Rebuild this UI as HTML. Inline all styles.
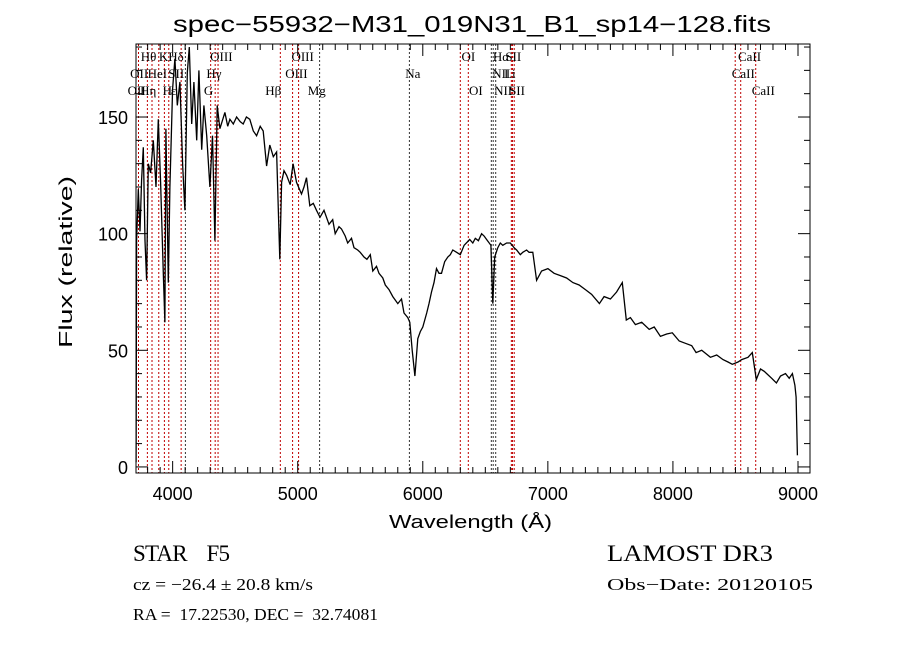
<!DOCTYPE html>
<html><head><meta charset="utf-8"><style>
body{margin:0;background:#fff;width:900px;height:649px;overflow:hidden}
svg{display:block}
text{font-family:"Liberation Sans",sans-serif;fill:#000}
.ser{font-family:"Liberation Serif",serif}
.lab{font-family:"Liberation Serif",serif;font-size:13px}
</style></head><body>
<svg id="chart" width="900" height="649" viewBox="0 0 900 649" xmlns="http://www.w3.org/2000/svg">
<text x="173" y="32" font-size="23" textLength="598" lengthAdjust="spacingAndGlyphs">spec−55932−M31_019N31_B1_sp14−128.fits</text>
<g id="lines"></g>
<g id="ticks"></g>
<path id="spec" fill="none" stroke="#000" stroke-width="1.3" stroke-linejoin="miter"/>
<rect x="136" y="44" width="674" height="429" fill="none" stroke="#000" stroke-width="1"/>
<text transform="translate(72,262) rotate(-90)" x="-86" font-size="18" textLength="172" lengthAdjust="spacingAndGlyphs">Flux (relative)</text>
<text x="389" y="528" font-size="18" textLength="163" lengthAdjust="spacingAndGlyphs">Wavelength (Å)</text>
<text class="ser" x="133" y="561" font-size="23" textLength="97" lengthAdjust="spacing" xml:space="preserve">STAR    F5</text>
<text class="ser" x="607" y="561" font-size="23" textLength="166" lengthAdjust="spacingAndGlyphs">LAMOST DR3</text>
<text class="ser" x="133" y="590" font-size="17" textLength="180" lengthAdjust="spacingAndGlyphs">cz = −26.4 ± 20.8 km/s</text>
<text class="ser" x="607" y="590" font-size="17" textLength="206" lengthAdjust="spacingAndGlyphs">Obs−Date: 20120105</text>
<text class="ser" x="133" y="620" font-size="17" textLength="245" lengthAdjust="spacingAndGlyphs" xml:space="preserve">RA =  17.22530, DEC =  32.74081</text>
</svg>
<script>
const wavelengths=[3708,3712,3725,3739,3752,3765,3779,3792,3805,3824,3845,3867,3885,3904,3925,3938,3946,3965,3978,4000,4018,4037,4058,4080,4098,4117,4133,4152,4170,4192,4210,4232,4250,4272,4298,4319,4338,4356,4378,4418,4440,4458,4485,4511,4540,4564,4590,4617,4645,4671,4700,4724,4751,4777,4805,4831,4857,4871,4890,4911,4940,4963,4990,5030,5050,5070,5097,5125,5150,5178,5210,5250,5280,5300,5330,5350,5380,5400,5430,5450,5480,5500,5530,5553,5580,5600,5630,5650,5680,5700,5730,5760,5800,5830,5850,5880,5896,5915,5937,5960,5980,6000,6031,6050,6070,6090,6110,6130,6150,6175,6200,6220,6240,6270,6300,6330,6375,6400,6420,6445,6470,6490,6510,6545,6560,6575,6600,6620,6640,6670,6700,6730,6750,6780,6800,6830,6850,6880,6910,6950,7000,7050,7100,7150,7200,7250,7300,7350,7412,7450,7500,7550,7595,7627,7660,7700,7750,7810,7850,7900,7950,7995,8050,8100,8150,8185,8230,8300,8350,8400,8440,8475,8520,8550,8600,8635,8667,8700,8730,8750,8790,8827,8860,8900,8930,8955,8975,8985,8995];
const fluxes=[2,97,119,101,123,137,97,80,130,126,140,120,149,122,83,62,145,79,120,162,175,155,165,129,110,169,180,147,165,140,170,136,155,142,120,142,97,155,145,152,146,149,147,150,148,147,150,149,144,142,146,144,129,138,133,135,89,122,127,125,121,130,122,117,120,124,112,113,110,107,110,104,106,100,103,102,99,96,98,94,93,92,90,89,91,84,86,83,81,78,76,73,70,72,66,64,62,50,39,55,58,60,66,70,75,79,85,83,83,88,90,91,93,92,91,95,97.5,96,98,97,100,99,97.5,95,70,90,94,96,95,96,96,94,93,91,92,93,92,92,80,84,85,83,82,81,79,78,76,74,70,73,72,75,79,63,64,61,62,59,60,56,57,57.5,54,53,52,49,50,47,48,46,45,44,45,46,47,49,37.5,42,41,40,38,36,39,40,38,40,35,30,5];
const lineWaves=[3727,3798,3835,3889,3934,3969,4068,4102,4304,4340,4363,4861,4959,5007,5175,5893,6300,6364,6548,6563,6583,6708,6717,6731,8498,8542,8662];
const lineColors=["r","r","r","r","r","r","r","k","r","r","r","r","r","r","k","k","r","r","k","k","k","r","r","r","r","r","r"];
const labelNames=["Hθ","K","Hδ","OIII","OIII","OI","Hα","SII","CaII","OII","HeI","SII","Hγ","OIII","Na","NII","Li","CaII","OII","Hη","H","ε","G","Hβ","Mg","OI","NII","SII","CaII"];
const labelWaves=[3745,3890,3965,4300,4950,6310,6560,6660,8520,3660,3800,3965,4270,4900,5860,6555,6650,8470,3640,3740,3920,3985,4250,4740,5080,6370,6570,6690,8630];
const labelRows=[0,0,0,0,0,0,0,0,0,1,1,1,1,1,1,1,1,1,2,2,2,2,2,2,2,2,2,2,2];
const xTicks=[4000,5000,6000,7000,8000,9000];
const yTicks=[0,50,100,150];

const X0=136,X1=810,Y0=44,Y1=473,WMIN=3707,WMAX=9096,FMIN=-2.6,FMAX=181.3;
const xs=w=>X0+(w-WMIN)/(WMAX-WMIN)*(X1-X0);
const ys=f=>Y1-(f-FMIN)/(FMAX-FMIN)*(Y1-Y0);
const NS="http://www.w3.org/2000/svg";
function mk(tag,attrs,parent){const e=document.createElementNS(NS,tag);for(const k in attrs)e.setAttribute(k,attrs[k]);parent.appendChild(e);return e;}

let d="";
wavelengths.forEach((w,i)=>{d+=(i?"L":"M")+xs(w).toFixed(1)+" "+ys(fluxes[i]).toFixed(1);});
document.getElementById("spec").setAttribute("d",d);

const lg=document.getElementById("lines");
lineWaves.forEach((w,i)=>{
  const l=mk("line",{x1:xs(w),x2:xs(w),y1:Y0,y2:Y1,stroke:lineColors[i]==="r"?"#c00000":"#333","stroke-width":1,"stroke-dasharray":"2,2"},lg);
  
  
});
labelNames.forEach((n,i)=>{
  const t=mk("text",{x:xs(labelWaves[i]),y:61+labelRows[i]*17,class:"lab"},lg);
  t.textContent=n;
  
  
});

const tg=document.getElementById("ticks");
for(let w=3800;w<=9000;w+=100){
  const major=w%1000===0,len=major?12:6;
  mk("line",{x1:xs(w),x2:xs(w),y1:Y1,y2:Y1-len,stroke:"#000"},tg);
  mk("line",{x1:xs(w),x2:xs(w),y1:Y0,y2:Y0+len,stroke:"#000"},tg);
}
for(let f=0;f<=180;f+=10){
  const major=f%50===0,len=major?12:6;
  mk("line",{x1:X0,x2:X0+len,y1:ys(f),y2:ys(f),stroke:"#000"},tg);
  mk("line",{x1:X1,x2:X1-len,y1:ys(f),y2:ys(f),stroke:"#000"},tg);
}
xTicks.forEach(v=>{
  const t=mk("text",{x:xs(v),y:500,"text-anchor":"middle","font-size":18},tg);
  t.textContent=v;
  
  
});
yTicks.forEach(v=>{
  const t=mk("text",{x:128,y:ys(v)+7,"text-anchor":"end","font-size":18},tg);
  t.textContent=v;
  
  
});
</script>
</body></html>
